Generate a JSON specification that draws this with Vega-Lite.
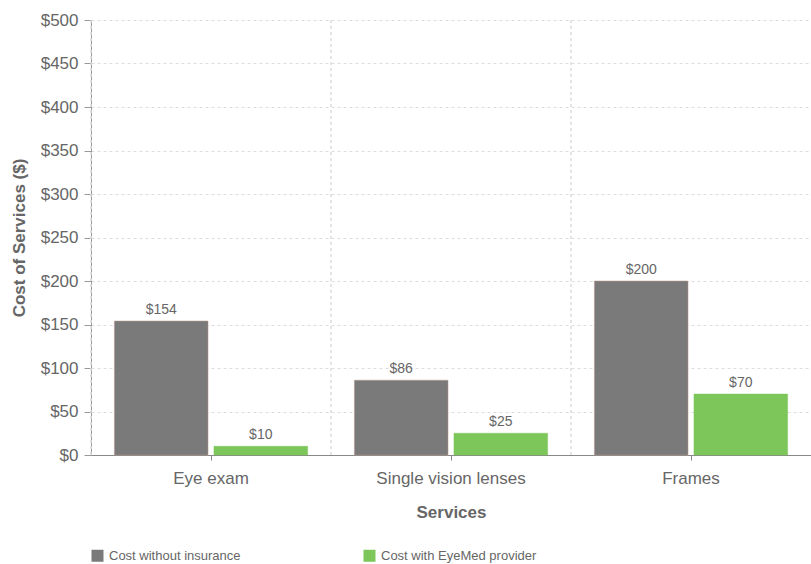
{
  "$schema": "https://vega.github.io/schema/vega-lite/v6.json",
  "width": 720,
  "height": 435,
  "autosize": {"type": "none"},
  "padding": {"left": 91, "top": 20, "right": 0, "bottom": 109},
  "config": {
    "view": {"stroke": null},
    "font": "Liberation Sans",
    "axis": {"labelFont": "Liberation Sans", "titleFont": "Liberation Sans"},
    "legend": {"labelFont": "Liberation Sans"}
  },
  "data": {
    "values": [
      {"service": "Eye exam", "type": "Cost without insurance", "cost": 154, "label": "$154"},
      {"service": "Eye exam", "type": "Cost with EyeMed provider", "cost": 10, "label": "$10"},
      {"service": "Single vision lenses", "type": "Cost without insurance", "cost": 86, "label": "$86"},
      {"service": "Single vision lenses", "type": "Cost with EyeMed provider", "cost": 25, "label": "$25"},
      {"service": "Frames", "type": "Cost without insurance", "cost": 200, "label": "$200"},
      {"service": "Frames", "type": "Cost with EyeMed provider", "cost": 70, "label": "$70"}
    ]
  },
  "layer": [
    {
      "mark": {"type": "rule", "color": "#dcdcdc", "strokeDash": [3, 3], "strokeWidth": 1},
      "encoding": {
        "x": {
          "field": "service", "type": "nominal", "bandPosition": 0,
          "sort": ["Eye exam", "Single vision lenses", "Frames"],
          "scale": {"paddingInner": 0, "paddingOuter": 0},
          "axis": {
            "title": "Services", "titleFontSize": 17, "titleFontWeight": "bold", "titleColor": "#666666", "titlePadding": 18,
            "labelFontSize": 17, "labelColor": "#666666", "labelAngle": 0, "labelPadding": 10,
            "domainColor": "#888888", "tickColor": "#888888", "tickSize": 5, "grid": false
          }
        }
      }
    },
    {
      "mark": {"type": "bar", "strokeWidth": 0.5},
      "encoding": {
        "x": {
          "field": "service", "type": "nominal",
          "sort": ["Eye exam", "Single vision lenses", "Frames"],
          "scale": {"paddingInner": 0, "paddingOuter": 0},
          "axis": {
            "title": "Services", "titleFontSize": 17, "titleFontWeight": "bold", "titleColor": "#666666", "titlePadding": 18,
            "labelFontSize": 17, "labelColor": "#666666", "labelAngle": 0, "labelPadding": 10,
            "domainColor": "#888888", "tickColor": "#888888", "tickSize": 5, "grid": false
          }
        },
        "xOffset": {
          "field": "type", "type": "nominal",
          "sort": ["Cost without insurance", "Cost with EyeMed provider"],
          "scale": {"paddingInner": 0.06, "paddingOuter": 0.235}
        },
        "y": {
          "field": "cost", "type": "quantitative",
          "scale": {"domain": [0, 500]},
          "axis": {
            "title": "Cost of Services ($)", "titleFontSize": 17, "titleFontWeight": "bold", "titleColor": "#666666", "titlePadding": 12,
            "values": [0, 50, 100, 150, 200, 250, 300, 350, 400, 450, 500],
            "labelExpr": "'$' + datum.value",
            "labelFontSize": 17, "labelColor": "#666666", "labelPadding": 6,
            "domainColor": "#999999", "tickColor": "#999999", "tickSize": 7,
            "grid": true, "gridColor": "#dcdcdc", "gridDash": [3, 3]
          }
        },
        "color": {
          "field": "type", "type": "nominal",
          "sort": ["Cost without insurance", "Cost with EyeMed provider"],
          "scale": {"domain": ["Cost without insurance", "Cost with EyeMed provider"], "range": ["#7b7a7b", "#7cc65a"]},
          "legend": {
            "title": null, "orient": "none", "legendX": 0, "legendY": 529, "direction": "horizontal", "columns": 2,
            "symbolType": "square", "symbolSize": 144, "symbolStrokeWidth": 0, "labelFontSize": 13, "labelColor": "#666666",
            "columnPadding": 122, "padding": 0, "labelOffset": 5
          }
        },
        "stroke": {
          "condition": {"test": "datum.type === 'Cost without insurance'", "value": "#b89888"},
          "value": "#7cc65a"
        }
      }
    },
    {
      "mark": {"type": "text", "baseline": "bottom", "dy": -4, "fontSize": 14, "color": "#666666"},
      "encoding": {
        "x": {
          "field": "service", "type": "nominal",
          "sort": ["Eye exam", "Single vision lenses", "Frames"]
        },
        "xOffset": {
          "field": "type", "type": "nominal",
          "sort": ["Cost without insurance", "Cost with EyeMed provider"]
        },
        "y": {"field": "cost", "type": "quantitative"},
        "text": {"field": "label", "type": "nominal"}
      }
    }
  ]
}
